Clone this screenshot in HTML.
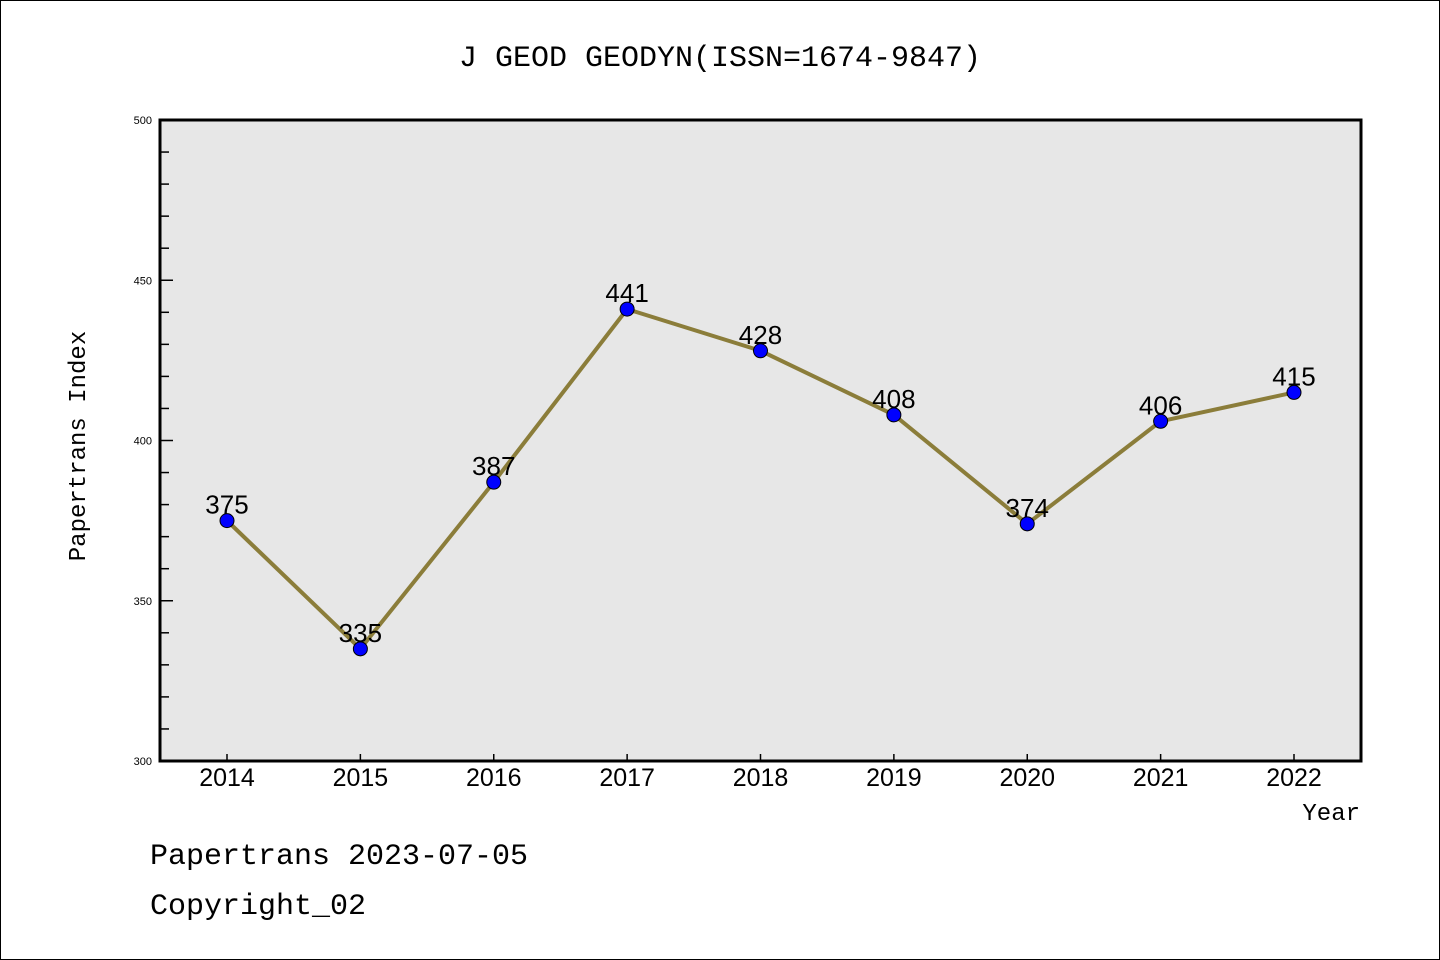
<!DOCTYPE html>
<html><head><meta charset="utf-8"><style>
body{margin:0;background:#fff}
svg{display:block;font-family:"Liberation Sans","DejaVu Sans",sans-serif}
.mono{font-family:"Liberation Mono","DejaVu Sans Mono",monospace}
</style></head><body>
<svg id="c" width="1440" height="960">
<rect x="0.5" y="0.5" width="1439" height="959" fill="#fff" stroke="#000"/>
<text class="mono" x="720" y="66" font-size="30" text-anchor="middle">J GEOD GEODYN(ISSN=1674-9847)</text>
<rect x="160" y="120" width="1201" height="641" fill="#e7e7e7"/>
<g id="ticks"></g>
<g id="series"></g>
<rect x="160" y="120" width="1201" height="641" fill="none" stroke="#000" stroke-width="3"/>
<text class="mono" x="85" y="446" font-size="24" text-anchor="middle" transform="rotate(-90 85 446)">Papertrans Index</text>
<text class="mono" x="1360" y="820" font-size="24" text-anchor="end">Year</text>
<text class="mono" x="150" y="864" font-size="30">Papertrans 2023-07-05</text>
<text class="mono" x="150" y="914" font-size="30">Copyright_02</text>
</svg>
<script>
const categories=["2014","2015","2016","2017","2018","2019","2020","2021","2022"];
const values=[375,335,387,441,428,408,374,406,415];
const yTicks=[300,350,400,450,500];
const NS="http://www.w3.org/2000/svg";
const X0=227,XS=133.375,Y0=761,Y1=120,YMIN=300,YMAX=500;
function xs(i){return X0+i*XS;}
function ys(v){return Y0-(v-YMIN)/(YMAX-YMIN)*(Y0-Y1);}
function mk(tag,attrs,parent){const e=document.createElementNS(NS,tag);for(const k in attrs)e.setAttribute(k,attrs[k]);parent.appendChild(e);return e;}
const tg=document.getElementById('ticks'),sg=document.getElementById('series');
for(let v=YMIN;v<YMAX;v+=10){
  if(v%50===0)continue;
  const l=mk('line',{x1:160,x2:169,y1:ys(v),y2:ys(v),stroke:'#000','stroke-width':1.5},tg);
  
  
}
yTicks.forEach(v=>{
  const l=mk('line',{x1:160,x2:173,y1:ys(v),y2:ys(v),stroke:'#000','stroke-width':1.5},tg);
  
  
  const t=mk('text',{x:152,y:ys(v)+4,'font-size':11,'text-anchor':'end'},tg);
  t.textContent=v;
  
  
});
categories.forEach((c,i)=>{
  const l=mk('line',{x1:xs(i),x2:xs(i),y1:761,y2:754,stroke:'#000','stroke-width':1.5},tg);
  
  
  const t=mk('text',{x:xs(i),y:786,'font-size':25,'text-anchor':'middle'},tg);
  t.textContent=c;
  
  
});
const pl=mk('polyline',{points:values.map((v,i)=>xs(i)+','+ys(v)).join(' '),fill:'none',stroke:'#8b7d3a','stroke-width':4,'stroke-linejoin':'round'},sg);


values.forEach((v,i)=>{
  const c=mk('circle',{cx:xs(i),cy:ys(v),r:7,fill:'#0000ff',stroke:'#000','stroke-width':1},sg);
  
  
  const t=mk('text',{x:xs(i),y:ys(v)-7,'font-size':26,'text-anchor':'middle'},sg);
  t.textContent=v;
  
  
});
</script>
</body></html>
